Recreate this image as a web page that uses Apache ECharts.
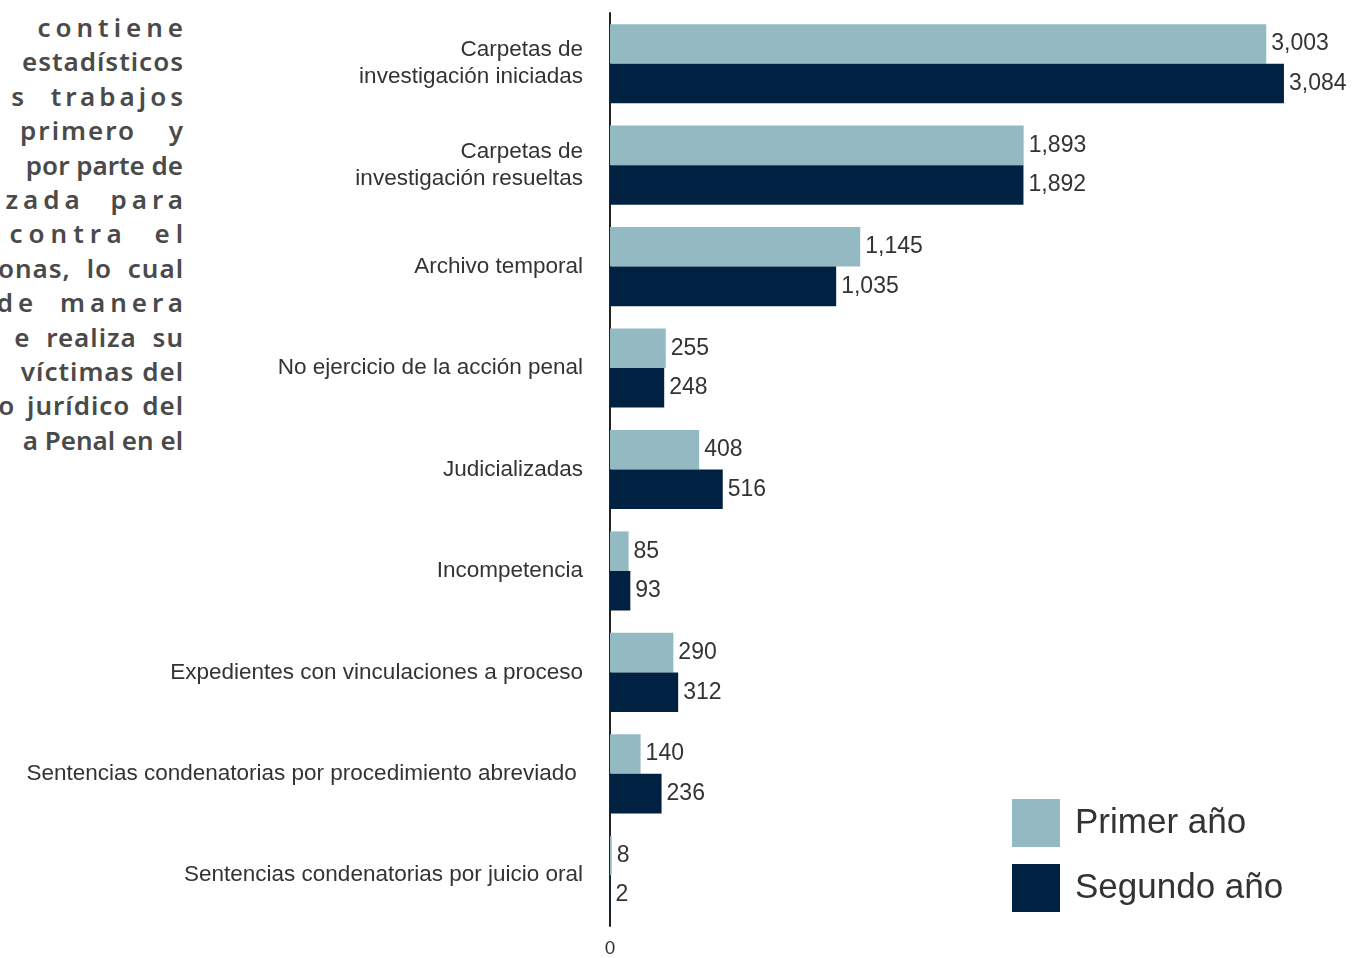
<!DOCTYPE html>
<html lang="es" style="height: 100%">
<head>
  <meta charset="utf-8">
  <style>
    .side { position: absolute; right: calc(100% - 183px); white-space: nowrap; font-family: "Noto Sans", sans-serif; font-weight: 600; font-size: 26px; color: #4a4a4a; line-height: 34px; }
  </style>
</head>
<body style="height: 100%; margin: 0; overflow: hidden; position: relative">
  <div id="side"></div>
  <div id="container" style="position: absolute; left: 0; top: 0; width: 1358px; height: 958px"></div>

  <script type="text/javascript" src="https://fastly.jsdelivr.net/npm/echarts@6/dist/echarts.min.js"></script>

  <script type="text/javascript">
    var categories = [
      'Carpetas de\ninvestigación iniciadas',
      'Carpetas de\ninvestigación resueltas',
      'Archivo temporal',
      'No ejercicio de la acción penal',
      'Judicializadas',
      'Incompetencia',
      'Expedientes con vinculaciones a proceso',
      'Sentencias condenatorias por procedimiento abreviado ',
      'Sentencias condenatorias por juicio oral'
    ];
    var primerAnio = [3003, 1893, 1145, 255, 408, 85, 290, 140, 8];
    var segundoAnio = [3084, 1892, 1035, 248, 516, 93, 312, 236, 2];

    // paragraph cut off at the left edge of the picture
    var sideLines = [
      ['contiene', 5, 0],
      ['estadísticos', 1, 0],
      ['s trabajos', 4, 12],
      ['primero y', 2, 24],
      ['por parte de', 0, 0],
      ['zada para', 5, 14],
      ['contra el', 6, 14],
      ['onas, lo cual', 1, 8],
      ['de manera', 5, 10],
      ['e realiza su', 1, 8],
      ['víctimas del', 1, 0],
      ['o jurídico del', 1, 4],
      ['a Penal en el', 0, 0]
    ];

    sideLines.forEach(function (l, i) {
      var d = document.getElementById('side').appendChild(document.createElement('div'));
      d.className = 'side';
      d.textContent = l[0];
      d.style.top = (10 + i * 34.4) + 'px';
      d.style.letterSpacing = l[1] + 'px';
      d.style.wordSpacing = l[2] + 'px';
      d.style.marginRight = (-l[1]) + 'px';
    });

    var myChart = echarts.init(document.getElementById('container'), null, { renderer: 'canvas' });

    var labelStyle = {
      show: true,
      position: 'right',
      distance: 5,
      fontSize: 23,
      color: '#333',
      fontFamily: 'Liberation Sans, Arial, sans-serif',
      formatter: function (p) { return p.value.toLocaleString('en-US'); }
    };

    var option = {
      animation: false,
      textStyle: { fontFamily: 'Liberation Sans, Arial, sans-serif' },
      grid: { left: 610, top: 13, width: 743, height: 913 },
      legend: {
        orient: 'vertical',
        left: 1007,
        top: 794,
        itemWidth: 48,
        itemHeight: 48,
        itemGap: 17,
        icon: 'rect',
        textStyle: { fontSize: 35, color: '#333', padding: [4, 0, 0, 10] },
        data: ['Primer año', 'Segundo año']
      },
      xAxis: {
        type: 'value',
        min: 0,
        max: 3400,
        axisLine: { show: false },
        axisTick: { show: false },
        splitLine: { show: false },
        axisLabel: {
          fontSize: 19,
          color: '#333',
          margin: 13,
          formatter: function (v) { return v === 0 ? '0' : ''; }
        }
      },
      yAxis: {
        type: 'category',
        inverse: true,
        data: categories,
        axisLine: { show: true, lineStyle: { color: '#222', width: 2 } },
        axisTick: { show: false },
        axisLabel: { fontSize: 22.5, color: '#333', margin: 27, lineHeight: 27, align: 'right' }
      },
      series: [
        {
          name: 'Primer año',
          type: 'bar',
          data: primerAnio,
          barGap: '0%',
          barCategoryGap: '22%',
          itemStyle: { color: '#93BAC3' },
          label: labelStyle
        },
        {
          name: 'Segundo año',
          type: 'bar',
          data: segundoAnio,
          barGap: '0%',
          barCategoryGap: '22%',
          itemStyle: { color: '#002142' },
          label: labelStyle
        }
      ]
    };

    myChart.setOption(option);
    window.addEventListener('resize', myChart.resize);
  </script>
</body>
</html>
